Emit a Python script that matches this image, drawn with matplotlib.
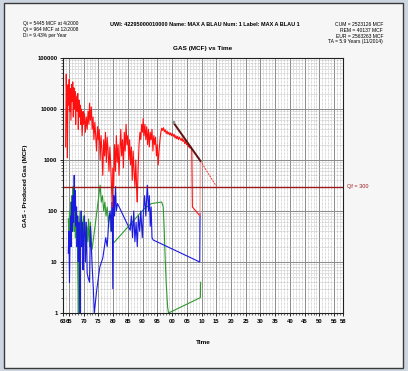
import numpy as np
import matplotlib
matplotlib.use('Agg')
import matplotlib.pyplot as plt
from matplotlib.patches import Rectangle
from matplotlib.ticker import FixedLocator, NullFormatter

plt.rcParams['font.family'] = ['Liberation Sans', 'DejaVu Sans']

# gas (red)
gas_t = [1963.9, 1964.1, 1964.3, 1964.5, 1964.7, 1964.9, 1965.1, 1965.3, 1965.5, 1965.7,
         1965.9, 1966.1, 1966.3, 1966.5, 1966.7, 1966.9, 1967.1, 1967.3, 1967.5, 1967.8,
         1968.0, 1968.2, 1968.4, 1968.6, 1968.8, 1969.0, 1969.2, 1969.5, 1969.8, 1970.0,
         1970.3, 1970.6, 1970.9, 1971.2, 1971.5, 1971.8, 1972.0, 1972.3, 1972.6, 1972.9,
         1973.2, 1973.5, 1973.8, 1974.1, 1974.4, 1974.7, 1975.0, 1975.3, 1975.6, 1975.9,
         1976.2, 1976.5, 1976.8, 1977.1, 1977.4, 1977.7, 1978.0, 1978.3, 1978.6, 1978.9,
         1979.2, 1979.5, 1979.7, 1979.9, 1980.2, 1980.5, 1980.8, 1981.1, 1981.4, 1981.7,
         1982.0, 1982.3, 1982.6, 1982.9, 1983.2, 1983.5, 1983.8, 1984.1, 1984.4, 1984.7,
         1985.0, 1985.3, 1985.6, 1985.9, 1986.2, 1986.5, 1986.8, 1987.1, 1987.4, 1987.7,
         1988.0, 1988.2, 1988.5, 1988.8, 1989.1, 1989.4, 1989.7, 1990.0, 1990.2, 1990.5,
         1990.8, 1991.1, 1991.4, 1991.7, 1992.0, 1992.3, 1992.6, 1992.9, 1993.2, 1993.5,
         1993.8, 1994.1, 1994.4, 1994.7, 1995.0, 1995.3, 1995.6, 1995.9, 1996.2, 1996.5,
         1996.8, 1997.1, 1997.4, 1997.7, 1998.0, 1998.3, 1998.6, 1998.9, 1999.2, 1999.5,
         1999.8, 2000.1, 2000.4, 2000.7, 2001.0, 2001.3, 2001.6, 2001.9, 2002.2, 2002.5,
         2002.8, 2003.1, 2003.4, 2003.7, 2004.0, 2004.3, 2004.6, 2004.9, 2005.2, 2005.5,
         2005.8, 2006.1, 2006.4, 2006.7, 2006.9, 2009.5]
gas_q = [1800, 48000, 9000, 1100, 30000, 12000, 38000, 9000, 25000, 6000,
         30000, 14000, 34000, 7000, 26000, 10000, 22000, 5000, 18000, 9000,
         20000, 4000, 15000, 7000, 12000, 5000, 10000, 3000, 9000, 5000,
         8000, 3500, 7000, 4000, 9000, 5000, 13000, 6000, 11000, 4000,
         7000, 2500, 5500, 3000, 1500, 4500, 2500, 4000, 1000, 3000,
         1600, 500, 2500, 1200, 3500, 900, 2800, 1500, 600, 1800,
         800, 250, 120, 700, 300, 2000, 600, 3000, 900, 2000,
         500, 1500, 4000, 1200, 2500, 700, 3500, 1500, 5000, 2000,
         3000, 1000, 2500, 800, 1800, 400, 1500, 600, 300, 1000,
         250, 150, 700, 2000, 3500, 2500, 5000, 3500, 6500, 3000,
         5000, 2500, 4500, 2000, 4000, 1800, 3500, 2500, 4000, 1500,
         3000, 2000, 2800, 1200, 2000, 800, 1500, 2500, 3500, 4200,
         3800, 4300, 3600, 3900, 3300, 3700, 3200, 3500, 3100, 3400,
         3000, 3300, 2900, 3200, 2700, 3000, 2600, 2900, 2500, 2800,
         2600, 2400, 2700, 2300, 2500, 2100, 2300, 2000, 2100, 1800,
         1900, 1700, 1800, 1600, 120, 80]

# water (blue)
wat_t = [1964.8, 1965.0, 1965.2, 1965.4, 1965.6, 1965.8, 1966.0, 1966.2, 1966.4, 1966.6,
         1966.8, 1967.0, 1967.2, 1967.4, 1967.6, 1967.8, 1968.0, 1968.2, 1968.4, 1968.6,
         1968.8, 1969.0, 1969.2, 1969.4, 1969.6, 1969.8, 1970.0, 1970.3, 1970.6, 1970.9,
         1971.2, 1971.5, 1972.0, 1972.3, 1972.6, 1972.9, 1973.3, 1973.6, 1974.5, 1975.5,
         1976.5, 1977.5, 1978.0, 1978.5, 1979.0, 1979.4, 1979.7, 1979.9, 1980.2, 1980.5,
         1980.8, 1981.1, 1981.5, 1985.8, 1986.2, 1986.6, 1987.0, 1987.4, 1987.8, 1988.2,
         1988.6, 1989.0, 1989.4, 1989.9, 1990.3, 1990.7, 1991.1, 1991.6, 1992.0, 1992.3,
         1992.6, 1992.9, 1993.2, 1993.6, 2009.4, 2009.5]
wat_q = [15, 40, 4, 30, 80, 20, 150, 40, 200, 60,
         500, 100, 250, 50, 120, 20, 80, 10, 60, 15,
         1, 40, 100, 20, 60, 7, 30, 80, 10, 60,
         6, 5, 4, 50, 20, 8, 3, 1, 3, 8,
         12, 30, 20, 60, 100, 40, 150, 3, 200, 80,
         300, 100, 140, 42, 80, 30, 100, 25, 60, 20,
         80, 40, 100, 30, 100, 200, 80, 320, 100, 200,
         50, 120, 30, 27, 10, 90]

# oil (green)
oil_t = [1964.8, 1965.0, 1965.2, 1965.4, 1965.6, 1965.8, 1966.0, 1966.2, 1966.4, 1966.6,
         1966.8, 1967.0, 1967.2, 1967.4, 1967.6, 1967.8, 1968.0, 1968.2, 1968.5, 1968.8,
         1969.0, 1969.3, 1969.6, 1969.9, 1970.2, 1970.5, 1970.8, 1971.1, 1971.4, 1971.7,
         1972.0, 1972.3, 1972.6, 1972.9, 1975.6, 1976.0, 1976.4, 1976.8, 1977.2, 1977.6,
         1978.0, 1978.4, 1978.8, 1979.2, 1979.6, 1980.0, 1990.5, 1993.0, 1996.5, 1997.0,
         1997.3, 1997.6, 1998.0, 1998.5, 1998.8, 2009.6, 2009.7]
oil_q = [70, 30, 100, 40, 150, 50, 200, 60, 300, 80,
         40, 150, 30, 80, 20, 60, 7, 1, 50, 100,
         30, 70, 20, 80, 30, 60, 15, 50, 25, 70,
         20, 60, 25, 18, 320, 150, 200, 100, 150, 80,
         120, 60, 90, 40, 60, 23, 110, 140, 150, 120,
         50, 15, 4, 1.3, 1, 2, 4]

# decline fit and forecast
fit_t = [2000.45, 2009.6]
fit_q = [5445, 964]
fc_t = [2009.6, 2015.1]
fc_q = [964, 300]
qf = 300

xticks = [1963, 1965, 1970, 1975, 1980, 1985, 1990, 1995, 2000, 2005, 2010,
          2015, 2020, 2025, 2030, 2035, 2040, 2045, 2050, 2055, 2058]
xlabels = ['63', '65', '70', '75', '80', '85', '90', '95', '00', '05', '10',
           '15', '20', '25', '30', '35', '40', '45', '50', '55', '58']
yticks = [1, 10, 100, 1000, 10000, 100000]
ylabels = ['1', '10', '100', '1000', '10000', '100000']

fig = plt.figure(figsize=(4.08, 3.71), dpi=100)
fig.patch.set_facecolor('#cdd6e0')
fig.patches.append(Rectangle((4/408, 3/371), 399/408, 365/371, transform=fig.transFigure,
                             facecolor='#f6f6f6', edgecolor='#3a3a3a', lw=1.0, zorder=-5))

ax = fig.add_axes([63/408, 1-313/371, 280/408, 255/371])
ax.set_zorder(2)
ax.set_facecolor('white')
ax.set_yscale('log')
ax.set_xlim(1963, 2058)
ax.set_ylim(1, 100000)

ax.set_xticks(xticks)
ax.set_xticklabels(xlabels, fontsize=4.2, fontweight='bold')
ax.xaxis.set_minor_locator(FixedLocator(np.arange(1963, 2059, 1)))
ax.set_yticks(yticks)
ax.set_yticklabels(ylabels, fontsize=4.2, fontweight='bold')
ax.yaxis.set_minor_formatter(NullFormatter())
ax.tick_params(which='major', length=2.5, width=0.6, pad=1.5)
ax.tick_params(which='minor', length=1.5, width=0.4)

ax.grid(True, which='major', color='#8a8a8a', lw=0.7)
ax.grid(True, which='minor', color='#b4b4b4', lw=0.5, ls=(0, (1, 1)))
for s in ax.spines.values():
    s.set_linewidth(0.8)
    s.set_color('#202020')

ax.plot(oil_t, oil_q, color='#2e9a2e', lw=0.8)
ax.plot(wat_t, wat_q, color='#1a1ae0', lw=0.8)
ax.plot(gas_t, gas_q, color='#ff1010', lw=0.8)
ax.plot([gas_t[-1], fc_t[0]], [gas_q[-1], fc_q[0]], color='#ff9090', lw=0.6)
ax.axhline(qf, color='#9a1818', lw=1.0)
ax.plot(fc_t, fc_q, color='#ff3030', lw=0.7, ls=(0, (2, 1)))
ax.plot(fit_t, fit_q, color='#5c1010', lw=1.4)
ax.plot(fit_t[0], fit_q[0], 'o', color='#909090', ms=1.5)

ax.text(1.015, np.log10(qf)/5, 'Qf = 300', transform=ax.transAxes, fontsize=4.0,
        color='#9a1818', va='center', ha='left')

ax.set_title('GAS (MCF) vs Time', fontsize=4.6, fontweight='bold', pad=6)
ax.set_xlabel('Time', fontsize=4.6, fontweight='bold', labelpad=12)
ax.set_ylabel('GAS - Produced Gas (MCF)', fontsize=4.6, fontweight='bold', labelpad=7)

fig.text(23/408, 1-24/371, 'Qi = 5445 MCF at 4/2000', fontsize=3.5, va='center', ha='left')
fig.text(23/408, 1-30/371, 'Qi = 964 MCF at 12/2008', fontsize=3.5, va='center', ha='left')
fig.text(23/408, 1-36/371, 'Di = 9.43% per Year', fontsize=3.5, va='center', ha='left')
fig.text(205/408, 1-24/371, 'UWI: 42295000010000 Name: MAX A BLAU Num: 1 Label: MAX A BLAU 1',
         fontsize=4.0, fontweight='bold', va='center', ha='center')
fig.text(383/408, 1-24/371, 'CUM = 2523126 MCF', fontsize=3.6, va='center', ha='right')
fig.text(383/408, 1-30/371, 'REM = 40137 MCF', fontsize=3.6, va='center', ha='right')
fig.text(383/408, 1-36/371, 'EUR = 2563263 MCF', fontsize=3.6, va='center', ha='right')
fig.text(383/408, 1-42/371, 'TA = 5.9 Years (11/2014)', fontsize=3.6, va='center', ha='right')

fig.savefig('out.png', dpi=100, facecolor=fig.get_facecolor())
